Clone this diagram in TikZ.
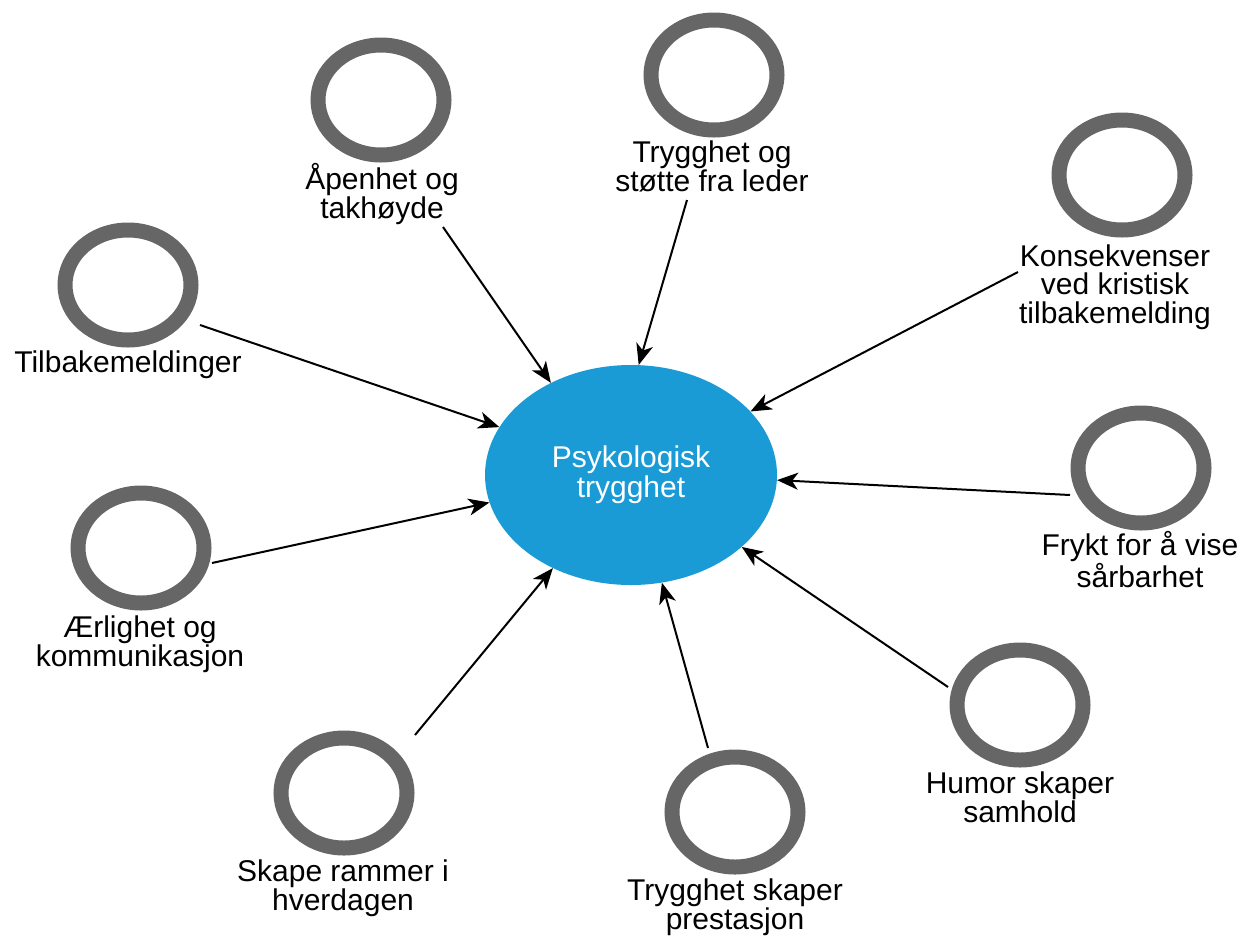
\documentclass[tikz,border=0pt]{standalone}
\usepackage{fontspec}
\setmainfont{Liberation Sans}
\usetikzlibrary{shapes.geometric,arrows.meta}
\definecolor{ringgray}{HTML}{666666}
\definecolor{hubblue}{RGB}{26,155,214}
\begin{document}
\begin{tikzpicture}[x=1pt,y=-1pt,
  ring/.style={ellipse,draw=ringgray,line width=15pt,minimum width=126pt,minimum height=110pt,inner sep=0pt},
  hub/.style={ellipse,fill=hubblue,minimum width=292pt,minimum height=220pt,inner sep=0pt,text=white,align=center,font=\fontsize{30}{30}\selectfont},
  lbl/.style={align=center,anchor=base,inner sep=0pt,font=\fontsize{30}{28.5}\selectfont},
  conn/.style={line width=2pt,-{Stealth[length=21pt,width=17pt,inset=6pt]}}]
\fill[white] (0,0) rectangle (1255,935);
\useasboundingbox (0,0) rectangle (1255,935);

\node[hub] (hub) at (631,475) {Psykologisk\\trygghet};

% rings
\node[ring] (c1) at (128,285) {};
\node[ring] (c2) at (381,100) {};
\node[ring] (c3) at (714,75) {};
\node[ring] (c4) at (1122,175) {};
\node[ring] (c5) at (1141,468) {};
\node[ring] (c6) at (1020,705) {};
\node[ring] (c7) at (735,812) {};
\node[ring] (c8) at (344,793) {};
\node[ring] (c9) at (141,548) {};

% labels (anchored at the baseline of the last line)
\node[lbl] (t1) at (128,372) {Tilbakemeldinger};
\node[lbl] (t2) at (382,218) {Åpenhet og\\takhøyde};
\node[lbl] (t3) at (712,191) {Trygghet og\\støtte fra leder};
\node[lbl] (t4) at (1115,323) {Konsekvenser\\ved kristisk\\tilbakemelding};
\node[lbl] (t5) at (1140,587) {Frykt for å vise\\sårbarhet};
\node[lbl] (t6) at (1020,822) {Humor skaper\\samhold};
\node[lbl] (t7) at (735,929) {Trygghet skaper\\prestasjon};
\node[lbl] (t8) at (343,910) {Skape rammer i\\hverdagen};
\node[lbl] (t9) at (140,666) {Ærlighet og\\kommunikasjon};

% connector start points
\coordinate (s1) at (200,325);
\coordinate (s2) at (443,227);
\coordinate (s3) at (687,200);
\coordinate (s4) at (1018,272);
\coordinate (s5) at (1070,495);
\coordinate (s6) at (948,687);
\coordinate (s7) at (708,748);
\coordinate (s8) at (415,735);
\coordinate (s9) at (212,563);

\draw[conn] (s1) -- (hub.160.7);
\draw[conn] (s2) -- (hub.131.9);
\draw[conn] (s3) -- (hub.86.3);
\draw[conn] (s4) -- (hub.28.2);
\draw[conn] (s5) -- (hub.-2.7);
\draw[conn] (s6) -- (hub.-33.1);
\draw[conn] (s7) -- (hub.-74.7);
\draw[conn] (s8) -- (hub.230.3);
\draw[conn] (s9) -- (hub.191.8);
\end{tikzpicture}
\end{document}
